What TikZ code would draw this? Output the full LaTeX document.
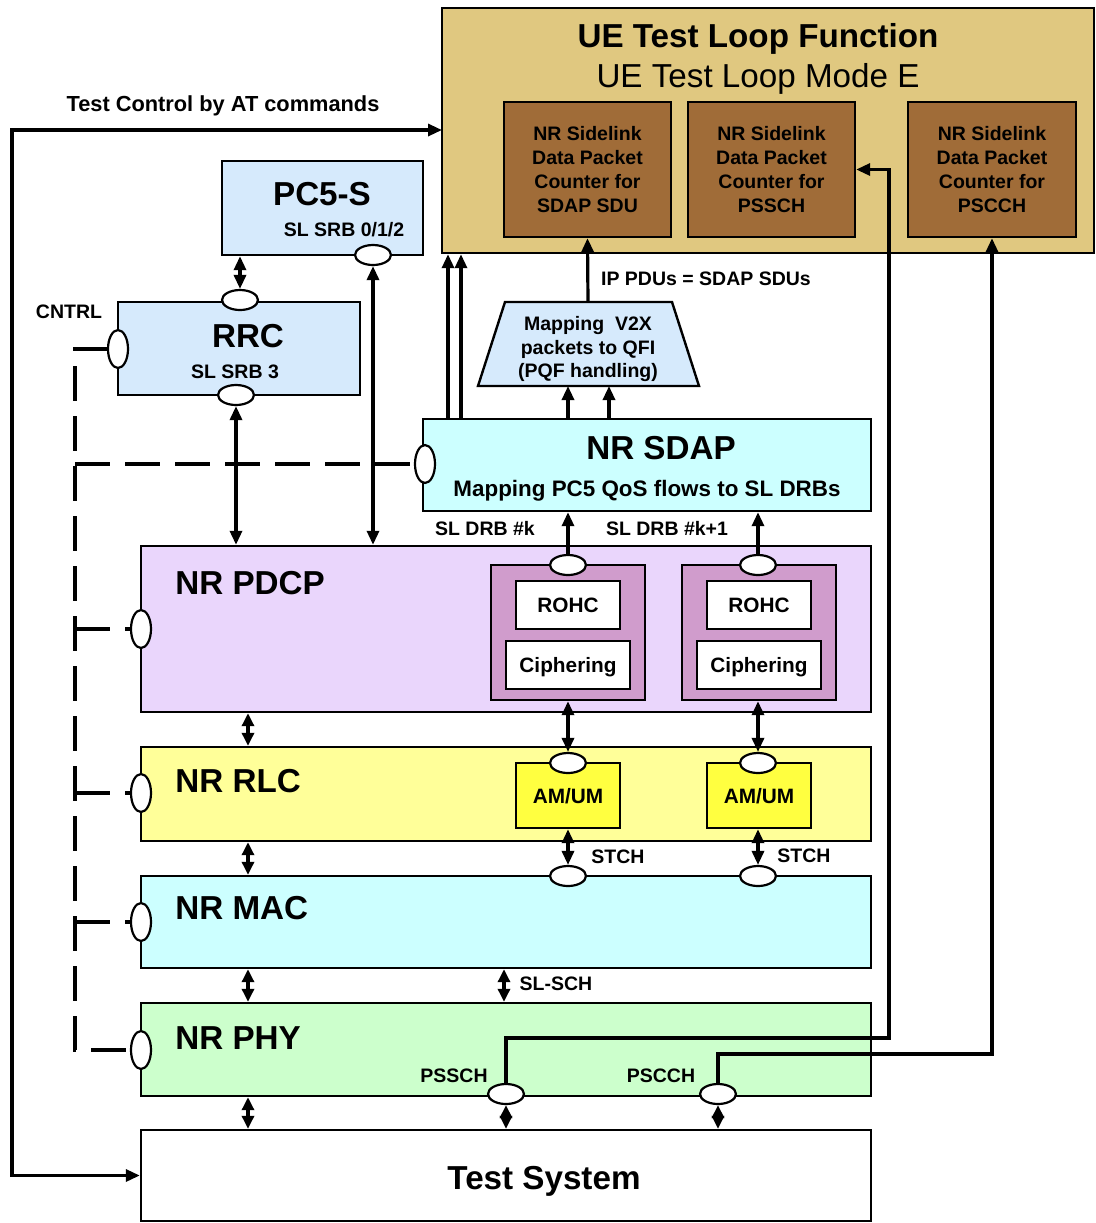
\documentclass[tikz,border=0pt]{standalone}
\usepackage{fontspec}
\setmainfont{Liberation Sans}
\usetikzlibrary{shapes.geometric,fit,arrows.meta}
\definecolor{tanbg}{RGB}{224,200,128}
\definecolor{brownc}{RGB}{160,108,56}
\definecolor{ltblue}{RGB}{214,234,252}
\definecolor{lavc}{RGB}{234,214,252}
\definecolor{purpc}{RGB}{208,156,204}
\definecolor{ltyel}{RGB}{255,255,153}
\definecolor{yelc}{RGB}{255,255,64}
\definecolor{cyanc}{RGB}{204,255,255}
\definecolor{greenc}{RGB}{204,255,204}
\begin{document}
\begin{tikzpicture}[x=0.5pt,y=-0.5pt,
  box/.style={draw,line width=1.2pt,inner sep=0pt},
  big/.style={font=\bfseries\fontsize{16.6}{20}\selectfont,inner sep=0pt,anchor=base},
  lbl/.style={font=\bfseries\fontsize{9.75}{12}\selectfont,inner sep=0pt,anchor=base},
  mid/.style={font=\bfseries\fontsize{10.4}{12}\selectfont,inner sep=0pt,anchor=base},
  ctr/.style={font=\bfseries\fontsize{9.75}{12}\selectfont,inner sep=0pt,align=center},
  ovh/.style={ellipse,draw,fill=white,line width=1.1pt,minimum width=18pt,minimum height=10pt,inner sep=0pt},
  ovv/.style={ellipse,draw,fill=white,line width=1.1pt,minimum width=10pt,minimum height=19pt,inner sep=0pt},
  arr/.style={line width=1.6pt,-{Triangle[length=7pt,width=6pt]}},
  darr/.style={line width=1.6pt,{Triangle[length=7pt,width=6pt]}-{Triangle[length=7pt,width=6pt]}},
  sdarr/.style={line width=1.6pt,{Triangle[length=6.5pt,width=6pt]}-{Triangle[length=6.5pt,width=6pt]}},
  ctl/.style={line width=2pt,dash pattern=on 17.5pt off 7.5pt},
  line/.style={line width=1.5pt}]
\useasboundingbox (0,0) rectangle (1096,1223);

% UE Test Loop Function
\node[box,fill=tanbg,fit={(442,8)(1094,253)}] (ue) {};
\node[big] (uet) at (758,47) {UE Test Loop Function};
\node[big,font=\fontsize{16.6}{20}\selectfont] (uem) at (758,87) {UE Test Loop Mode E};
\node[box,fill=brownc,fit={(504,102)(671,237)}] (c1) {};
\node[box,fill=brownc,fit={(688,102)(855,237)}] (c2) {};
\node[box,fill=brownc,fit={(908,102)(1076,237)}] (c3) {};
\node[ctr] (c1t) at (c1.center) {NR Sidelink\\Data Packet\\Counter for\\SDAP SDU};
\node[ctr] (c2t) at (c2.center) {NR Sidelink\\Data Packet\\Counter for\\PSSCH};
\node[ctr] (c3t) at (c3.center) {NR Sidelink\\Data Packet\\Counter for\\PSCCH};

\node[lbl,font=\bfseries\fontsize{10.9}{12}\selectfont] (tcl) at (223,111) {Test Control by AT commands};

% PC5-S and RRC
\node[box,fill=ltblue,fit={(222,161)(423,255)}] (pc5) {};
\node[big] (pc5t) at (322,205) {PC5-S};
\node[lbl] (pc5s) at (344,236) {SL SRB 0/1/2};
\node[box,fill=ltblue,fit={(118,302)(360,395)}] (rrc) {};
\node[big] (rrct) at (248,347) {RRC};
\node[lbl] (rrcs) at (235,378) {SL SRB 3};
\node[lbl] (cntrl) at (69,318) {CNTRL};

% SDAP and mapping
\node[box,fill=cyanc,fit={(423,419)(871,511)}] (sdap) {};
\node[big] (sdapt) at (661,459) {NR SDAP};
\node[lbl,font=\bfseries\fontsize{11.2}{13}\selectfont] (sdaps) at (647,496) {Mapping PC5 QoS flows to SL DRBs};
\draw[box,fill=ltblue] (505,302) -- (672,302) -- (699,386) -- (478,386) -- cycle;
\coordinate (mapt) at (588,302);
\coordinate (mapb1) at (568,386);
\coordinate (mapb2) at (609,386);
\node[ctr,font=\bfseries\fontsize{9.75}{11.75}\selectfont] (mapx) at (588,349) {Mapping\ \ V2X\\packets to QFI\\(PQF handling)};
\node[lbl] (ipl) at (706,285) {IP PDUs = SDAP SDUs};

% PDCP
\node[box,fill=lavc,fit={(141,546)(871,712)}] (pdcp) {};
\node[big,anchor=base west] (pdcpt) at (175,594) {NR PDCP};
\node[box,fill=purpc,fit={(491,565)(645,700)}] (p1) {};
\node[box,fill=purpc,fit={(682,565)(836,700)}] (p2) {};
\node[box,fill=white,fit={(516,581)(620,629)}] (r1) {};
\node[box,fill=white,fit={(506,641)(630,689)}] (ci1) {};
\node[box,fill=white,fit={(707,581)(811,629)}] (r2) {};
\node[box,fill=white,fit={(697,641)(821,689)}] (ci2) {};
\node[mid] (r1t) at (568,612) {ROHC};
\node[mid] (r2t) at (759,612) {ROHC};
\node[mid] (ci1t) at (568,672) {Ciphering};
\node[mid] (ci2t) at (759,672) {Ciphering};
\node[lbl] (drbk) at (485,535) {SL DRB \#k};
\node[lbl] (drbk1) at (667,535) {SL DRB \#k+1};

% RLC
\node[box,fill=ltyel,fit={(141,747)(871,841)}] (rlc) {};
\node[big,anchor=base west] (rlct) at (175,792) {NR RLC};
\node[box,fill=yelc,fit={(516,763)(620,828)}] (am1) {};
\node[box,fill=yelc,fit={(707,763)(811,828)}] (am2) {};
\node[mid] (am1t) at (568,803) {AM/UM};
\node[mid] (am2t) at (759,803) {AM/UM};
\node[lbl] (st1) at (618,863) {STCH};
\node[lbl] (st2) at (804,862) {STCH};

% MAC
\node[box,fill=cyanc,fit={(141,876)(871,968)}] (mac) {};
\node[big,anchor=base west] (mact) at (175,919) {NR MAC};
\node[lbl] (slsch) at (556,990) {SL-SCH};

% PHY
\node[box,fill=greenc,fit={(141,1003)(871,1096)}] (phy) {};
\node[big,anchor=base west] (phyt) at (175,1049) {NR PHY};
\node[lbl] (pssl) at (454,1082) {PSSCH};
\node[lbl] (pscl) at (661,1082) {PSCCH};

% Test System
\node[box,fill=white,fit={(141,1130)(871,1221)}] (ts) {};
\node[big] (tst) at (544,1189) {Test System};

% control dashed lines
\draw[ctl] (108,349) -- (75,349) -- (75,1050) -- (131,1050);
\draw[ctl] (75,464) -- (415,464);
\draw[ctl] (75,629) -- (131,629);
\draw[ctl] (75,793) -- (131,793);
\draw[ctl] (75,922) -- (131,922);

% test control arrow
\coordinate (uein) at (442,130);
\coordinate (ctlx) at (12,600);
\draw[darr] (uein) -| (ctlx) |- (ts.west);

% ovals
\node[ovh] (pco) at (373,255) {};
\node[ovh] (rrt) at (240,300) {};
\node[ovv] (rrl) at (118,349) {};
\node[ovh] (rrb) at (236,395) {};
\node[ovv] (sdo) at (425,464) {};
\node[ovv] (pdo) at (141,629) {};
\node[ovh] (p1o) at (568,565) {};
\node[ovh] (p2o) at (758,565) {};
\node[ovv] (rlo) at (141,793) {};
\node[ovh] (a1o) at (568,763) {};
\node[ovh] (a2o) at (758,763) {};
\node[ovv] (mao) at (141,922) {};
\node[ovh] (m1o) at (568,876) {};
\node[ovh] (m2o) at (758,876) {};
\node[ovv] (pho) at (141,1050) {};
\node[ovh] (f1o) at (506,1094) {};
\node[ovh] (f2o) at (718,1094) {};

% connectors upper part
\draw[darr] (pc5.south -| rrt) -- (rrt.north);
\draw[darr] (pco.south) -- (pco.south |- pdcp.north);
\draw[darr] (rrb.south) -- (rrb.south |- pdcp.north);
\draw[arr] (448,0 |- sdap.north) -- (448,0 |- ue.south);
\draw[arr] (461,0 |- sdap.north) -- (461,0 |- ue.south);
\draw[arr] (mapb1 |- sdap.north) -- (mapb1);
\draw[arr] (mapb2 |- sdap.north) -- (mapb2);
\draw[arr] (mapt) -- (c1.south);
\draw[arr] (p1o.north) -- (p1o.north |- sdap.south);
\draw[arr] (p2o.north) -- (p2o.north |- sdap.south);

% between layers
\draw[darr] (p1o |- p1.south) -- (a1o.north);
\draw[darr] (p2o |- p2.south) -- (a2o.north);
\draw[darr] (a1o |- am1.south) -- (m1o.north);
\draw[darr] (a2o |- am2.south) -- (m2o.north);
\draw[sdarr] (248,0 |- pdcp.south) -- (248,0 |- rlc.north);
\draw[sdarr] (248,0 |- rlc.south) -- (248,0 |- mac.north);
\draw[sdarr] (248,0 |- mac.south) -- (248,0 |- phy.north);
\draw[sdarr] (248,0 |- phy.south) -- (248,0 |- ts.north);
\draw[sdarr] (504,0 |- mac.south) -- (504,0 |- phy.north);
\draw[sdarr] (f1o.south) -- (f1o.south |- ts.north);
\draw[sdarr] (f2o.south) -- (f2o.south |- ts.north);

% PSSCH / PSCCH loops
\coordinate (pss1) at (889,1038);
\coordinate (psc1) at (992,1054);
\draw[arr] (f1o.north) |- (pss1) -- (pss1 |- c2.east) -- (c2.east);
\draw[arr] (f2o.north) |- (psc1) -- (c3.south);
\end{tikzpicture}
\end{document}
